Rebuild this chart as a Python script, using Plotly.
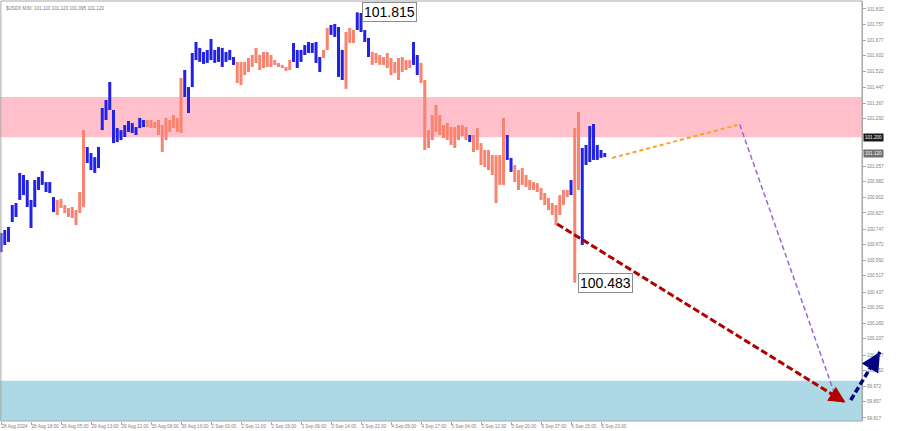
import plotly.graph_objects as go

bar_high = [100.728, 100.743, 100.758, 100.866, 100.876, 101.024, 101.014, 100.989, 100.891, 100.989,
            101.004, 101.033, 100.979, 100.979, 100.905, 100.891, 100.896, 100.866, 100.851, 100.856,
            100.841, 100.930, 101.235, 101.152, 101.122, 101.102, 101.152, 101.344, 101.383, 101.472,
            101.334, 101.245, 101.235, 101.260, 101.280, 101.270, 101.250, 101.295, 101.285, 101.285,
            101.285, 101.275, 101.285, 101.260, 101.295, 101.285, 101.309, 101.295, 101.492, 101.531,
            101.447, 101.615, 101.669, 101.640, 101.620, 101.630, 101.684, 101.630, 101.644, 101.640,
            101.620, 101.630, 101.595, 101.571, 101.571, 101.571, 101.590, 101.605, 101.640, 101.605,
            101.620, 101.620, 101.605, 101.580, 101.566, 101.556, 101.546, 101.580, 101.664, 101.630,
            101.630, 101.654, 101.669, 101.664, 101.669, 101.595, 101.630, 101.738, 101.753, 101.758,
            101.743, 101.630, 101.718, 101.738, 101.728, 101.815, 101.812, 101.728, 101.689, 101.620,
            101.615, 101.605, 101.595, 101.615, 101.590, 101.571, 101.590, 101.595, 101.580, 101.580,
            101.669, 101.605, 101.566, 101.482, 101.235, 101.309, 101.359, 101.309, 101.260, 101.270,
            101.250, 101.250, 101.260, 101.260, 101.250, 101.211, 101.211, 101.245, 101.171, 101.137,
            101.137, 101.112, 101.112, 101.112, 101.295, 101.211, 101.098, 101.063, 101.038, 101.048,
            101.014, 100.989, 100.979, 100.974, 100.950, 100.925, 100.900, 100.876, 100.866, 100.915,
            100.940, 100.940, 100.989, 101.245, 101.324, 101.147, 101.162, 101.255, 101.265, 101.162,
            101.137, 101.122]
bar_low = [100.634, 100.669, 100.684, 100.782, 100.807, 100.891, 100.915, 100.856, 100.753, 100.856,
           100.940, 100.965, 100.930, 100.925, 100.831, 100.817, 100.851, 100.827, 100.807, 100.802,
           100.767, 100.827, 100.856, 101.073, 101.038, 101.024, 101.048, 101.235, 101.285, 101.334,
           101.171, 101.176, 101.186, 101.201, 101.226, 101.221, 101.211, 101.245, 101.250, 101.250,
           101.245, 101.245, 101.211, 101.127, 101.186, 101.226, 101.245, 101.226, 101.221, 101.398,
           101.319, 101.447, 101.580, 101.571, 101.561, 101.566, 101.580, 101.566, 101.571, 101.546,
           101.571, 101.580, 101.556, 101.467, 101.457, 101.506, 101.521, 101.546, 101.566, 101.531,
           101.541, 101.546, 101.546, 101.556, 101.546, 101.541, 101.526, 101.531, 101.571, 101.541,
           101.571, 101.605, 101.615, 101.615, 101.566, 101.521, 101.590, 101.630, 101.704, 101.694,
           101.497, 101.482, 101.438, 101.664, 101.664, 101.728, 101.718, 101.669, 101.595, 101.556,
           101.566, 101.556, 101.556, 101.541, 101.506, 101.516, 101.482, 101.521, 101.531, 101.541,
           101.556, 101.506, 101.467, 101.137, 101.147, 101.186, 101.226, 101.211, 101.196, 101.186,
           101.162, 101.147, 101.186, 101.206, 101.186, 101.176, 101.127, 101.137, 101.063, 101.053,
           101.038, 101.014, 100.876, 100.965, 100.965, 101.088, 101.029, 100.979, 100.940, 100.965,
           100.955, 100.940, 100.940, 100.930, 100.891, 100.866, 100.841, 100.817, 100.767, 100.817,
           100.866, 100.905, 100.915, 100.483, 100.940, 100.669, 101.063, 101.078, 101.088, 101.088,
           101.098, 101.102]

# wave segments: last bar index of each segment and its direction
wave_ends = [14, 22, 38, 48, 62, 77, 85, 87, 91, 94, 98, 109, 111, 124, 125, 134, 136, 151, 152, 154, 161]
wave_dirs = ["up", "down", "up", "down", "up", "down", "up", "down", "up", "down", "up",
             "down", "up", "down", "up", "down", "up", "down", "up", "down", "up"]

time_labels = ["28 Aug 2024", "28 Aug 18:00", "29 Aug 05:00", "29 Aug 13:00", "29 Aug 21:00",
               "30 Aug 08:00", "30 Aug 16:00", "2 Sep 03:00", "2 Sep 11:00", "2 Sep 19:00",
               "3 Sep 06:00", "3 Sep 14:00", "3 Sep 22:00", "4 Sep 09:00", "4 Sep 17:00",
               "5 Sep 04:00", "5 Sep 12:00", "5 Sep 20:00", "6 Sep 07:00", "6 Sep 15:00",
               "6 Sep 23:00"]
bars_per_label = 8

price_ticks = [99.817, 99.897, 99.972, 100.052, 100.127, 100.207, 100.282, 100.362, 100.437,
               100.517, 100.592, 100.672, 100.747, 100.827, 100.902, 100.982, 101.057, 101.137,
               101.212, 101.292, 101.367, 101.447, 101.522, 101.602, 101.677, 101.757, 101.832]
hidden_ticks = [101.137, 101.212]   # covered by the bid / ask price boxes

resistance_zone = [101.200, 101.398]
support_zone = [99.802, 100.000]
last_quote = "$USDX,M30  101.110 101.120 101.095 101.120"
ask_price = 101.200
bid_price = 101.120
peak_bar, peak_price = 95, 101.815
trough_bar, trough_price = 153, 100.483

orange_x, orange_y = [163, 196.3], [101.098, 101.260]
purple_x, purple_y = [197.0, 222.3], [101.262, 99.935]
red_x, red_y = [148.3, 225.2], [100.772, 99.893]
navy_x, navy_y = [226.6, 234.4], [99.905, 100.142]

# ---- figure ----
BLUE = "#2222E6"
SALMON = "#F8836F"
colors = []
start = 0
for end, d in zip(wave_ends, wave_dirs):
    colors += [BLUE if d == "up" else SALMON] * (end - start + 1)
    start = end + 1

idx = list(range(len(bar_high)))
fig = go.Figure()
fig.add_trace(go.Bar(
    x=idx, base=bar_low, y=[h - l for h, l in zip(bar_high, bar_low)],
    width=0.8, marker=dict(color=colors, line=dict(width=0)), hoverinfo="skip"))

AXIS_POS = 862 / 900

shapes = [
    dict(type="rect", xref="paper", x0=0, x1=AXIS_POS, yref="y",
         y0=resistance_zone[0], y1=resistance_zone[1], fillcolor="#FFC0CB", line_width=0, layer="below"),
    dict(type="rect", xref="paper", x0=0, x1=AXIS_POS, yref="y",
         y0=support_zone[0], y1=support_zone[1], fillcolor="#ADD8E6", line_width=0, layer="below"),
    dict(type="rect", xref="paper", x0=0.001, x1=AXIS_POS, yref="paper", y0=0, y1=1,
         line=dict(color="#A8A8A8", width=1)),
    dict(type="line", x0=orange_x[0], x1=orange_x[1], y0=orange_y[0], y1=orange_y[1],
         line=dict(color="#FFA020", width=2, dash="4px,3px")),
    dict(type="line", x0=purple_x[0], x1=purple_x[1], y0=purple_y[0], y1=purple_y[1],
         line=dict(color="#9966DD", width=1.5, dash="5px,3px")),
    dict(type="line", x0=red_x[0], x1=red_x[1], y0=red_y[0], y1=red_y[1],
         line=dict(color="#B00000", width=3, dash="7px,3px")),
    dict(type="line", x0=navy_x[0], x1=navy_x[1], y0=navy_y[0], y1=navy_y[1],
         line=dict(color="#000080", width=3.5, dash="6px,3px")),
]

def head(x, y, bx, by, color, w):
    return dict(x=x, y=y, ax=bx, ay=by, xref="x", yref="y", axref="x", ayref="y",
                showarrow=True, arrowhead=2, arrowsize=1.1, arrowwidth=w, arrowcolor=color, text="")

annotations = [
    head(red_x[1], red_y[1], red_x[1] - (red_x[1] - red_x[0]) * 0.06,
         red_y[1] - (red_y[1] - red_y[0]) * 0.06, "#B00000", 3),
    head(navy_x[1], navy_y[1], navy_x[1] - (navy_x[1] - navy_x[0]) * 0.3,
         navy_y[1] - (navy_y[1] - navy_y[0]) * 0.3, "#000080", 3.5),
    dict(x=peak_bar, y=peak_price, xref="x", yref="y", text=f"{peak_price:.3f}", showarrow=False,
         xanchor="left", yanchor="middle", xshift=5,
         font=dict(family="Liberation Sans", size=14, color="black"),
         bgcolor="white", bordercolor="#8C8C8C", borderwidth=1, borderpad=1),
    dict(x=trough_bar, y=trough_price, xref="x", yref="y", text=f"{trough_price:.3f}", showarrow=False,
         xanchor="left", yanchor="middle", xshift=3,
         font=dict(family="Liberation Sans", size=14, color="black"),
         bgcolor="white", bordercolor="#8C8C8C", borderwidth=1, borderpad=1),
    dict(x=0.004, y=0.993, xref="paper", yref="paper", text=last_quote, showarrow=False,
         xanchor="left", yanchor="top", font=dict(family="Liberation Sans", size=4.6, color="#777")),
    dict(x=AXIS_POS, y=ask_price, xref="paper", yref="y", text=f"{ask_price:.3f}", showarrow=False,
         xanchor="left", yanchor="middle", xshift=1,
         font=dict(family="Liberation Sans", size=4.6, color="white"), bgcolor="#1A1A1A", borderpad=1),
    dict(x=AXIS_POS, y=bid_price, xref="paper", yref="y", text=f"{bid_price:.3f}", showarrow=False,
         xanchor="left", yanchor="middle", xshift=1,
         font=dict(family="Liberation Sans", size=4.6, color="white"), bgcolor="#707070", borderpad=1),
]

fig.update_layout(
    width=900, height=431, margin=dict(l=0, r=0, t=1, b=10, autoexpand=False),
    plot_bgcolor="white", paper_bgcolor="white", showlegend=False, hovermode=False,
    shapes=shapes, annotations=annotations,
    xaxis=dict(range=[-0.267, 239.73], domain=[0, 1], showgrid=False, zeroline=False, showline=False,
               automargin=False, tickangle=0,
               tickvals=[i * bars_per_label for i in range(len(time_labels))], ticktext=time_labels,
               ticks="outside", ticklen=3, tickcolor="#A8A8A8", ticklabelposition="outside right",
               tickfont=dict(family="Liberation Sans", size=4.6, color="#808080")),
    yaxis=dict(range=[99.802, 101.871], anchor="free", position=AXIS_POS, side="right",
               showgrid=False, zeroline=False, showline=True, linecolor="#A8A8A8", automargin=False,
               tickvals=price_ticks,
               ticktext=["" if p in hidden_ticks else f"{p:.3f}" for p in price_ticks],
               ticks="outside", ticklen=3, tickcolor="#A8A8A8",
               tickfont=dict(family="Liberation Sans", size=4.6, color="#808080")),
)

fig.write_html("out.html", config={"displayModeBar": False},
               post_script="document.body.style.margin='0';document.body.style.overflow='hidden';")
